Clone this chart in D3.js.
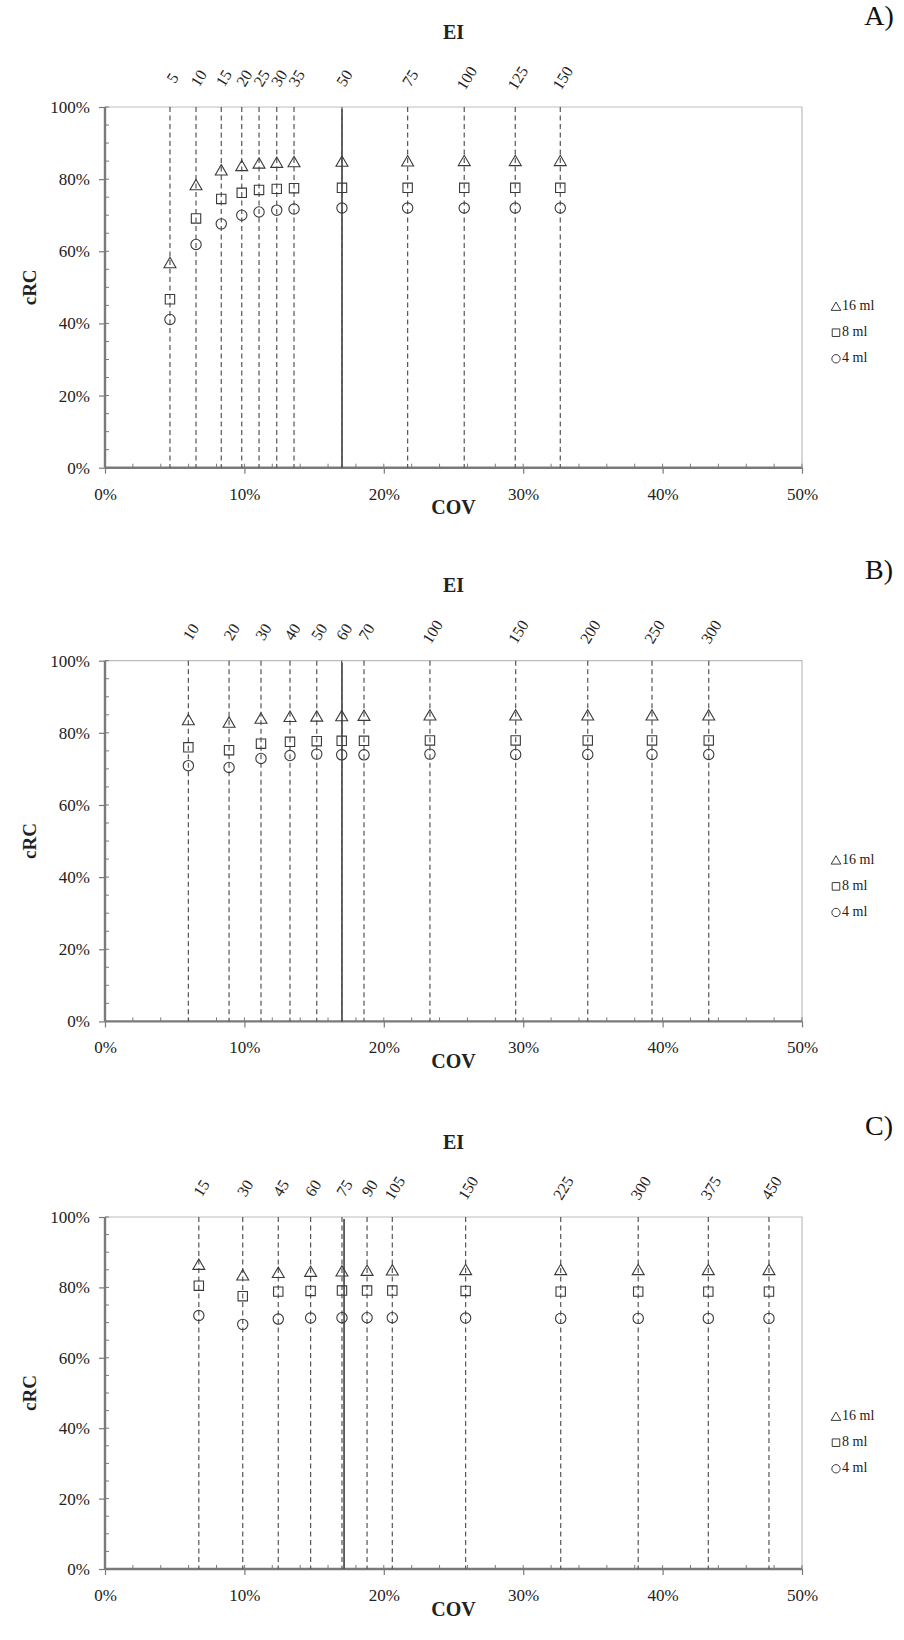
<!DOCTYPE html>
<html>
<head>
<meta charset="utf-8">
<script src="https://cdn.jsdelivr.net/npm/d3@7"></script>
<style>
  body { margin: 0; background: #fff; }
  svg { display: block; font-family: "Liberation Serif", "Times New Roman", serif; }
</style>
</head>
<body>
<script>
// panel names
const panelNames = ["A)", "B)", "C)"];

// EI values (labels on top) and the COV (%) where each dashed line sits
const eiA = [5, 10, 15, 20, 25, 30, 35, 50, 75, 100, 125, 150];
const covA = [4.66, 6.53, 8.34, 9.81, 11.05, 12.32, 13.56, 17.0, 21.71, 25.77, 29.43, 32.66];
const eiB = [10, 20, 30, 40, 50, 60, 70, 100, 150, 200, 250, 300];
const covB = [5.98, 8.9, 11.19, 13.27, 15.19, 16.98, 18.58, 23.31, 29.46, 34.63, 39.24, 43.31];
const eiC = [15, 30, 45, 60, 75, 90, 105, 150, 225, 300, 375, 450];
const covC = [6.73, 9.88, 12.43, 14.75, 17.0, 18.8, 20.61, 25.87, 32.69, 38.25, 43.28, 47.63];

// cRC (%) for each volume
const ml16A = [56.8, 78.4, 82.5, 83.7, 84.4, 84.6, 84.8, 84.9, 85.0, 85.1, 85.1, 85.1];
const ml8A  = [46.7, 69.1, 74.5, 76.2, 77.0, 77.3, 77.5, 77.6, 77.6, 77.6, 77.6, 77.6];
const ml4A  = [41.1, 61.9, 67.6, 70.0, 70.9, 71.4, 71.7, 72.0, 72.0, 72.0, 72.0, 72.0];
const ml16B = [83.6, 82.9, 84.0, 84.5, 84.6, 84.7, 84.8, 84.9, 84.9, 84.9, 84.9, 84.9];
const ml8B  = [76.0, 75.2, 77.0, 77.5, 77.7, 77.8, 77.8, 77.9, 77.9, 77.9, 77.9, 77.9];
const ml4B  = [70.9, 70.4, 72.9, 73.7, 74.1, 73.9, 73.9, 74.1, 74.0, 74.0, 74.0, 74.0];
const ml16C = [86.5, 83.5, 84.2, 84.5, 84.6, 84.8, 84.9, 85.0, 85.0, 85.0, 85.0, 85.0];
const ml8C  = [80.5, 77.5, 78.8, 79.0, 79.1, 79.1, 79.1, 79.0, 78.8, 78.8, 78.8, 78.8];
const ml4C  = [72.0, 69.5, 71.0, 71.3, 71.4, 71.4, 71.4, 71.3, 71.2, 71.2, 71.2, 71.2];

// the solid vertical line (COV %)
const solidCov = [17.0, 17.0, 17.15];

// legend
const seriesNames = ["16 ml", "8 ml", "4 ml"];
const seriesSymbols = [d3.symbolTriangle, d3.symbolSquare, d3.symbolCircle];

// tick values
const xTicks = [0, 10, 20, 30, 40, 50];
const yTicks = [0, 20, 40, 60, 80, 100];

const panels = [
  { name: panelNames[0], ei: eiA, cov: covA, series: [ml16A, ml8A, ml4A], solid: solidCov[0] },
  { name: panelNames[1], ei: eiB, cov: covB, series: [ml16B, ml8B, ml4B], solid: solidCov[1] },
  { name: panelNames[2], ei: eiC, cov: covC, series: [ml16C, ml8C, ml4C], solid: solidCov[2] }
];

var width = 904, height = 1640;
var left = 105, right = 802;
// plot box of each panel (top, height)
var tops = [107, 660.7, 1217];
var heights = [360.7, 360.7, 352];

var svg = d3.select("body").append("svg")
    .attr("width", width)
    .attr("height", height);

var x = d3.scaleLinear().domain([0, 50]).range([left, right]);
var axisColor = "#7a7a7a";
var markColor = "#3a3a3a";
var symSize = [62, 88, 84];

panels.forEach(function(p, i) {
  var top = tops[i];
  var bottom = top + heights[i];
  var y = d3.scaleLinear().domain([0, 100]).range([bottom, top]);
  var g = svg.append("g");

  // light frame (top + right)
  g.append("path")
    .attr("d", `M${left},${top}H${right}V${bottom}`)
    .attr("fill", "none")
    .attr("stroke", "#bdbdbd")
    .attr("stroke-width", 1.2);

  // minor ticks
  d3.range(0, 101, 5).forEach(function(v) {
    g.append("line")
      .attr("x1", left).attr("x2", left + 4)
      .attr("y1", y(v)).attr("y2", y(v))
      .attr("stroke", axisColor).attr("stroke-width", 1);
  });
  d3.range(0, 51, 2).forEach(function(v) {
    g.append("line")
      .attr("x1", x(v)).attr("x2", x(v))
      .attr("y1", bottom).attr("y2", bottom - 4)
      .attr("stroke", axisColor).attr("stroke-width", 1);
  });

  // y axis
  var yAxis = g.append("g")
    .attr("transform", `translate(${left},0)`)
    .call(d3.axisLeft(y).tickValues(yTicks).tickSize(6).tickPadding(9)
      .tickFormat(function(d) { return d + "%"; }));
  // x axis
  var xAxis = g.append("g")
    .attr("transform", `translate(0,${bottom})`)
    .call(d3.axisBottom(x).tickValues(xTicks).tickSize(6).tickPadding(14)
      .tickFormat(function(d) { return d + "%"; }));

  [yAxis, xAxis].forEach(function(a) {
    a.select(".domain").attr("stroke", axisColor).attr("stroke-width", 2.4);
    a.selectAll(".tick line").attr("stroke", axisColor).attr("stroke-width", 1.2);
    a.selectAll(".tick text")
      .attr("fill", "#222")
      .style("font-size", "17px")
      .style("font-family", "Liberation Serif, serif");
  });
  xAxis.select(".domain").attr("d", `M${left},0H${right}`);
  yAxis.select(".domain").attr("d", `M0,${bottom}V${top}`);

  // dashed EI lines
  g.selectAll(".ei-line")
    .data(p.cov)
    .enter().append("line")
      .attr("class", "ei-line")
      .attr("x1", function(d) { return x(d); })
      .attr("x2", function(d) { return x(d); })
      .attr("y1", top)
      .attr("y2", bottom)
      .attr("stroke", "#555")
      .attr("stroke-width", 1.2)
      .attr("stroke-dasharray", "5,3.5");

  // solid line
  g.append("line")
    .attr("x1", x(p.solid)).attr("x2", x(p.solid))
    .attr("y1", top + 2).attr("y2", bottom)
    .attr("stroke", "#555")
    .attr("stroke-width", 1.8);

  // EI labels (rotated)
  g.selectAll(".ei-label")
    .data(p.ei)
    .enter().append("text")
      .attr("class", "ei-label")
      .attr("transform", function(d, k) {
        return `translate(${x(p.cov[k]) + 4},${top - 28}) rotate(-58)`;
      })
      .attr("text-anchor", "middle")
      .attr("dominant-baseline", "middle")
      .style("font-size", "16px")
      .attr("fill", "#222")
      .text(function(d) { return d; });

  // markers
  p.series.forEach(function(vals, s) {
    g.selectAll(".mk" + s)
      .data(vals)
      .enter().append("path")
        .attr("class", "mk" + s)
        .attr("d", d3.symbol().type(seriesSymbols[s]).size(symSize[s]))
        .attr("transform", function(d, k) {
          var dy = s === 0 ? 1.4 : 0;
          return `translate(${x(p.cov[k])},${y(d) + dy})`;
        })
        .attr("fill", "none")
        .attr("stroke", markColor)
        .attr("stroke-width", 1.1);
  });

  // legend
  var leg = g.append("g");
  seriesNames.forEach(function(nm, s) {
    var ly = top + 199.6 + s * 26.1;
    leg.append("path")
      .attr("d", d3.symbol().type(seriesSymbols[s]).size(symSize[s] * 0.65))
      .attr("transform", `translate(836,${ly + (s === 0 ? 1 : 0)})`)
      .attr("fill", "none")
      .attr("stroke", markColor)
      .attr("stroke-width", 1);
    leg.append("text")
      .attr("x", 842)
      .attr("y", ly)
      .attr("dominant-baseline", "middle")
      .style("font-size", "14px")
      .attr("fill", "#222")
      .text(nm);
  });

  // titles
  g.append("text")
    .attr("x", (left + right) / 2)
    .attr("y", top - 73)
    .attr("text-anchor", "middle")
    .attr("dominant-baseline", "middle")
    .style("font-size", "20px")
    .style("font-weight", "bold")
    .attr("fill", "#222")
    .text("EI");

  g.append("text")
    .attr("x", (left + right) / 2)
    .attr("y", bottom + 42)
    .attr("text-anchor", "middle")
    .attr("dominant-baseline", "middle")
    .style("font-size", "20px")
    .style("font-weight", "bold")
    .attr("fill", "#222")
    .text("COV");

  g.append("text")
    .attr("transform", `translate(32,${(top + bottom) / 2}) rotate(-90)`)
    .attr("text-anchor", "middle")
    .attr("dominant-baseline", "middle")
    .style("font-size", "19px")
    .style("font-weight", "bold")
    .attr("fill", "#222")
    .text("cRC");

  g.append("text")
    .attr("x", 879)
    .attr("y", top - 88)
    .attr("text-anchor", "middle")
    .attr("dominant-baseline", "middle")
    .style("font-size", "28px")
    .attr("fill", "#111")
    .text(p.name);
});
</script>
</body>
</html>
